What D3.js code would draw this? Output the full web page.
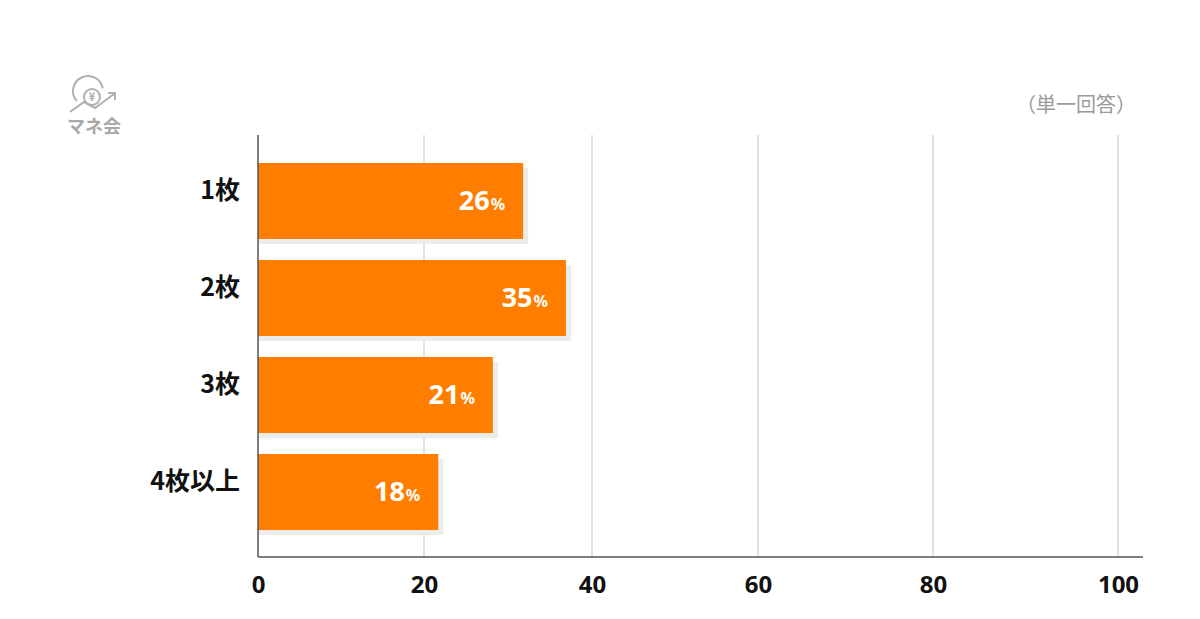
<!DOCTYPE html>
<html><head><meta charset="utf-8">
<script src="https://cdn.jsdelivr.net/npm/d3@7"></script>
<style>body{margin:0;background:#fff;}svg{display:block;}</style>
</head><body>
<svg id="chart" width="1200" height="619"></svg>
<script>
// Data
const categories = ["1枚", "2枚", "3枚", "4枚以上"];
const barValues = [31.8, 36.9, 28.2, 21.7];   // bar lengths as drawn
const labelValues = [26, 35, 21, 18];          // printed labels
const tickValues = [0, 20, 40, 60, 80, 100];
const note = "（単一回答）";
const logoText = "マネ会";

const svg = d3.select("#chart");
const jp = "'Noto Sans CJK JP','Noto Sans',sans-serif";

// Scales
const x = d3.scaleLinear().domain(tickValues).range([258, 424, 592, 758, 933, 1118]);
const y = d3.scaleBand().domain(categories).range([152.5, 540.5]).paddingInner(21/97).paddingOuter(10.5/97);
const plotTop = 135, plotBottom = 557;

// Grid
svg.append("g").selectAll("line").data(tickValues.slice(1)).join("line")
  .attr("x1", d => x(d)).attr("x2", d => x(d)).attr("y1", plotTop).attr("y2", plotBottom)
  .attr("stroke", "#cfcfcf").attr("stroke-width", 1.2);

// Bars shadow
const bars = svg.append("g");
bars.selectAll("rect.sh").data(categories).join("rect").attr("class","sh")
  .attr("x", x(0)).attr("y", d => y(d) + 5)
  .attr("width", (d,i) => x(barValues[i]) - x(0) + 5).attr("height", y.bandwidth())
  .attr("fill", "#ececec");
bars.selectAll("rect.b").data(categories).join("rect").attr("class","b")
  .attr("x", x(0)).attr("y", d => y(d))
  .attr("width", (d,i) => x(barValues[i]) - x(0)).attr("height", y.bandwidth())
  .attr("fill", "#FF7E00");

// Value labels
const vl = svg.append("g").selectAll("text").data(categories).join("text")
  .attr("x", (d,i) => x(barValues[i]) - 18)
  .attr("y", d => y(d) + y.bandwidth()/2 + 9)
  .attr("text-anchor", "end")
  .attr("fill", "#fff").attr("font-family", "'Noto Sans','Open Sans',sans-serif").attr("font-weight", 700);
vl.append("tspan").attr("font-size", 27).text((d,i) => labelValues[i]);
vl.append("tspan").attr("font-size", 16).attr("dx", 1).text("%");

// Axes lines
svg.append("line").attr("x1", x(0)).attr("x2", x(0)).attr("y1", plotTop).attr("y2", plotBottom)
  .attr("stroke", "#555").attr("stroke-width", 1.5);
svg.append("line").attr("x1", x(0)).attr("x2", 1143).attr("y1", plotBottom).attr("y2", plotBottom)
  .attr("stroke", "#555").attr("stroke-width", 1.5);

// X axis tick labels
const xAxis = d3.axisBottom(x).tickValues(tickValues).tickSize(0).tickPadding(0).tickFormat(d3.format("d"));
const gx = svg.append("g").attr("transform", `translate(0,${plotBottom + 19})`).call(xAxis);
gx.select(".domain").remove();
gx.selectAll("text").attr("font-family", "'Liberation Sans Narrow','Noto Sans',sans-serif")
  .attr("font-weight", 700).attr("font-size", 24).attr("fill", "#111");

// Y category labels
const yAxis = d3.axisLeft(y).tickSize(0).tickPadding(0);
const gy = svg.append("g").attr("transform", `translate(240,-10)`).call(yAxis);
gy.select(".domain").remove();
gy.selectAll("text").attr("font-family", jp).attr("font-weight", 700).attr("font-size", 25).attr("fill", "#111");

// Note
svg.append("text").attr("x", 1136).attr("y", 112).attr("text-anchor", "end")
  .attr("font-family", jp).attr("font-size", 20).attr("fill", "#9a9a9a").text(note);

// Logo
const lg = svg.append("g").attr("stroke", "#b0b0b0").attr("fill", "none").attr("stroke-width", 2);
lg.append("path").attr("d", d3.arc()({innerRadius: 15, outerRadius: 15, startAngle: -2.3, endAngle: 1.4})).attr("transform", "translate(88,91)");
lg.append("circle").attr("cx", 92).attr("cy", 97).attr("r", 8);
lg.append("path").attr("d", "M70,112 L84,102 L95,108 L114,94");
lg.append("path").attr("d", "M108,93 L115,93 L115,100");
svg.append("text").attr("x", 92).attr("y", 101).attr("text-anchor", "middle")
  .attr("font-family", jp).attr("font-weight", 700).attr("font-size", 11).attr("fill", "#a8a8a8").text("¥");
svg.append("text").attr("x", 94).attr("y", 133).attr("text-anchor", "middle")
  .attr("font-family", jp).attr("font-weight", 700).attr("font-size", 18).attr("fill", "#a8a8a8").text(logoText);
</script>
</body></html>
